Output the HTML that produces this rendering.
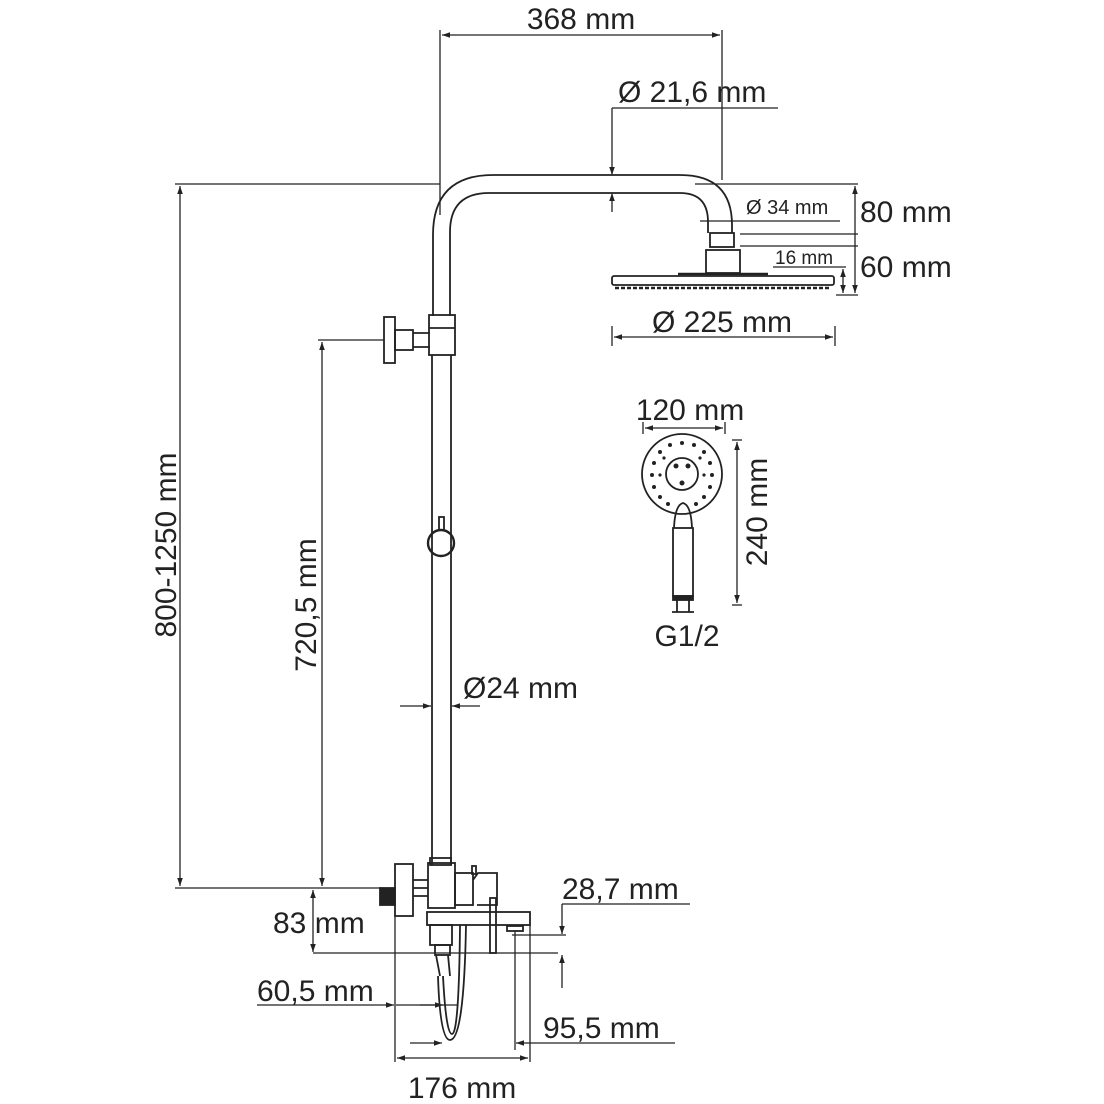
<!DOCTYPE html>
<html><head><meta charset="utf-8"><style>
html,body{margin:0;padding:0;background:#fff;}
svg{display:block}
text{font-family:"Liberation Sans",sans-serif;fill:#222;}
</style></head><body>
<svg width="1104" height="1104" viewBox="0 0 1104 1104" xmlns="http://www.w3.org/2000/svg">
<defs>
<marker id="a" viewBox="0 0 10 10" refX="10" refY="5" markerWidth="11" markerHeight="8" orient="auto-start-reverse" markerUnits="userSpaceOnUse"><path d="M0,1.5 L10,5 L0,8.5 z" fill="#222"/></marker>
</defs>
<g fill="none" stroke="#222" stroke-width="1.8">
<path d="M433,316 V235 Q433,175 493,175 H680 Q732,175 732,225 V233"/>
<path d="M450,316 V232 Q450,193 489,193 H680 Q708,193 708,222 V233"/>
<path d="M432,355 V865 M451,355 V865"/>
<rect x="710" y="233" width="24" height="14"/>
<rect x="706" y="250" width="34" height="23"/>
<line x1="678" y1="274" x2="768" y2="274" stroke-width="2.5"/>
<rect x="612" y="276" width="222" height="9" rx="2"/>
<path d="M615,288 H830" stroke-dasharray="4,2" stroke-width="2.5"/>
<rect x="429" y="315" width="26" height="40"/>
<line x1="429" y1="328" x2="455" y2="328"/>
<rect x="384" y="317" width="11" height="46"/>
<rect x="395" y="330" width="18" height="20"/>
<path d="M413,333 H430 M413,347 H430"/>
<rect x="439" y="517" width="5" height="13"/>
<circle cx="441" cy="543" r="13" stroke-width="2.4"/>
<rect x="395" y="864" width="18" height="52"/>
<rect x="380" y="888" width="15" height="17" fill="#222"/>
<path d="M413,880 H428 M413,896 H428 M413,888 H428"/>
<rect x="428" y="863" width="27" height="45"/>
<rect x="430" y="858" width="21" height="7"/>
<rect x="455" y="873" width="18" height="32"/>
<path d="M473,880 L478,873 H497 V905 H477"/>
<rect x="490" y="898" width="6" height="55"/>
<rect x="472" y="866" width="4" height="8"/>
<rect x="427" y="912" width="103" height="13"/>
<rect x="430" y="925" width="22" height="20"/>
<rect x="435" y="945" width="15" height="10"/>
<rect x="507" y="926" width="16" height="5"/>
<path d="M436,955 L440,976 M448,955 L450,976"/>
<path d="M438,976 Q440,1040 450,1040 Q464,1040 466,925"/>
<path d="M443,976 Q446,1034 452,1034 Q459,1034 460,925"/>
<circle cx="682" cy="474" r="40"/>
<circle cx="682" cy="474" r="16"/>
<path d="M674,528 Q675,505 683,503 Q691,505 692,528" />
<rect x="673" y="528" width="20" height="68"/>
<rect x="673" y="596" width="20" height="4" fill="#222"/>
<path d="M677,600 V612 M689,600 V612 M672,612 H694"/>
</g>
<g fill="#222">
<circle cx="682" cy="443" r="2"/><circle cx="670" cy="445" r="2"/><circle cx="694" cy="445" r="2"/>
<circle cx="660" cy="452" r="2"/><circle cx="704" cy="452" r="2"/><circle cx="654" cy="463" r="2"/>
<circle cx="710" cy="463" r="2"/><circle cx="652" cy="475" r="2"/><circle cx="712" cy="475" r="2"/>
<circle cx="654" cy="487" r="2"/><circle cx="710" cy="487" r="2"/><circle cx="660" cy="497" r="2"/>
<circle cx="704" cy="497" r="2"/><circle cx="668" cy="504" r="2"/><circle cx="696" cy="504" r="2"/>
<circle cx="676" cy="466" r="2.5"/><circle cx="688" cy="466" r="2.5"/><circle cx="682" cy="483" r="2.5"/>
<circle cx="664" cy="458" r="1.6"/><circle cx="700" cy="458" r="1.6"/><circle cx="660" cy="475" r="1.6"/><circle cx="704" cy="475" r="1.6"/>
</g>
<g stroke="#222" stroke-width="1.3" fill="none">
<line x1="440" y1="30" x2="440" y2="215"/><line x1="722" y1="30" x2="722" y2="180"/>
<line x1="442" y1="35" x2="720" y2="35" marker-start="url(#a)" marker-end="url(#a)"/>
<line x1="612" y1="108" x2="778" y2="108"/>
<line x1="612" y1="108" x2="612" y2="175" marker-end="url(#a)"/>
<line x1="612" y1="212" x2="612" y2="193" marker-end="url(#a)"/>
<line x1="175" y1="184" x2="440" y2="184"/><line x1="695" y1="184" x2="858" y2="184"/>
<line x1="700" y1="221" x2="840" y2="221"/>
<line x1="740" y1="234" x2="858" y2="234"/><line x1="740" y1="246" x2="858" y2="246"/>
<line x1="773" y1="267" x2="846" y2="267"/>
<line x1="836" y1="295" x2="858" y2="295"/>
<line x1="855" y1="186" x2="855" y2="293" marker-start="url(#a)" marker-end="url(#a)"/>
<line x1="843" y1="269" x2="843" y2="293" marker-start="url(#a)" marker-end="url(#a)"/>
<line x1="612" y1="326" x2="612" y2="346"/><line x1="835" y1="326" x2="835" y2="346"/>
<line x1="614" y1="337" x2="833" y2="337" marker-start="url(#a)" marker-end="url(#a)"/>
<line x1="180" y1="186" x2="180" y2="886" marker-start="url(#a)" marker-end="url(#a)"/>
<line x1="175" y1="888" x2="382" y2="888"/>
<line x1="318" y1="340" x2="384" y2="340"/>
<line x1="322" y1="342" x2="322" y2="886" marker-start="url(#a)" marker-end="url(#a)"/>
<line x1="400" y1="706" x2="431" y2="706" marker-end="url(#a)"/>
<line x1="480" y1="706" x2="452" y2="706" marker-end="url(#a)"/>
<line x1="313" y1="890" x2="313" y2="952" marker-start="url(#a)" marker-end="url(#a)"/>
<line x1="313" y1="953" x2="558" y2="953"/>
<line x1="562" y1="904" x2="690" y2="904"/>
<line x1="562" y1="904" x2="562" y2="934" marker-end="url(#a)"/>
<line x1="512" y1="935" x2="566" y2="935"/>
<line x1="562" y1="988" x2="562" y2="955" marker-end="url(#a)"/>
<line x1="395" y1="916" x2="395" y2="1062"/>
<line x1="530" y1="925" x2="530" y2="1062"/>
<line x1="515" y1="931" x2="515" y2="1050"/>
<line x1="257" y1="1005" x2="394" y2="1005" marker-end="url(#a)"/>
<line x1="396" y1="1005" x2="457" y2="1005"/>
<line x1="420" y1="1005" x2="443" y2="1005" marker-end="url(#a)"/>
<line x1="410" y1="1043" x2="442" y2="1043" marker-end="url(#a)"/>
<line x1="675" y1="1043" x2="516" y2="1043" marker-end="url(#a)"/>
<line x1="397" y1="1058" x2="528" y2="1058" marker-start="url(#a)" marker-end="url(#a)"/>
<line x1="643" y1="422" x2="643" y2="434"/><line x1="725" y1="422" x2="725" y2="434"/>
<line x1="645" y1="428" x2="723" y2="428" marker-start="url(#a)" marker-end="url(#a)"/>
<line x1="732" y1="440" x2="742" y2="440"/><line x1="732" y1="605" x2="742" y2="605"/>
<line x1="737" y1="442" x2="737" y2="603" marker-start="url(#a)" marker-end="url(#a)"/>
</g>
<g font-size="30">
<text x="581" y="29" text-anchor="middle">368 mm</text>
<text x="618" y="102">Ø 21,6 mm</text>
<text x="860" y="222">80 mm</text>
<text x="860" y="277">60 mm</text>
<text x="722" y="332" text-anchor="middle">Ø 225 mm</text>
<text x="690" y="420" text-anchor="middle">120 mm</text>
<text x="687" y="646" text-anchor="middle">G1/2</text>
<text x="463" y="698">Ø24 mm</text>
<text x="562" y="899">28,7 mm</text>
<text x="273" y="933">83 mm</text>
<text x="257" y="1001">60,5 mm</text>
<text x="543" y="1038">95,5 mm</text>
<text x="462" y="1098" text-anchor="middle">176 mm</text>
<text transform="translate(176,545) rotate(-90)" text-anchor="middle">800-1250 mm</text>
<text transform="translate(316,605) rotate(-90)" text-anchor="middle">720,5 mm</text>
<text transform="translate(767,512) rotate(-90)" text-anchor="middle">240 mm</text>
</g>
<text x="746" y="214" font-size="20">Ø 34 mm</text>
<text x="775" y="264" font-size="19">16 mm</text>
</svg>
</body></html>
